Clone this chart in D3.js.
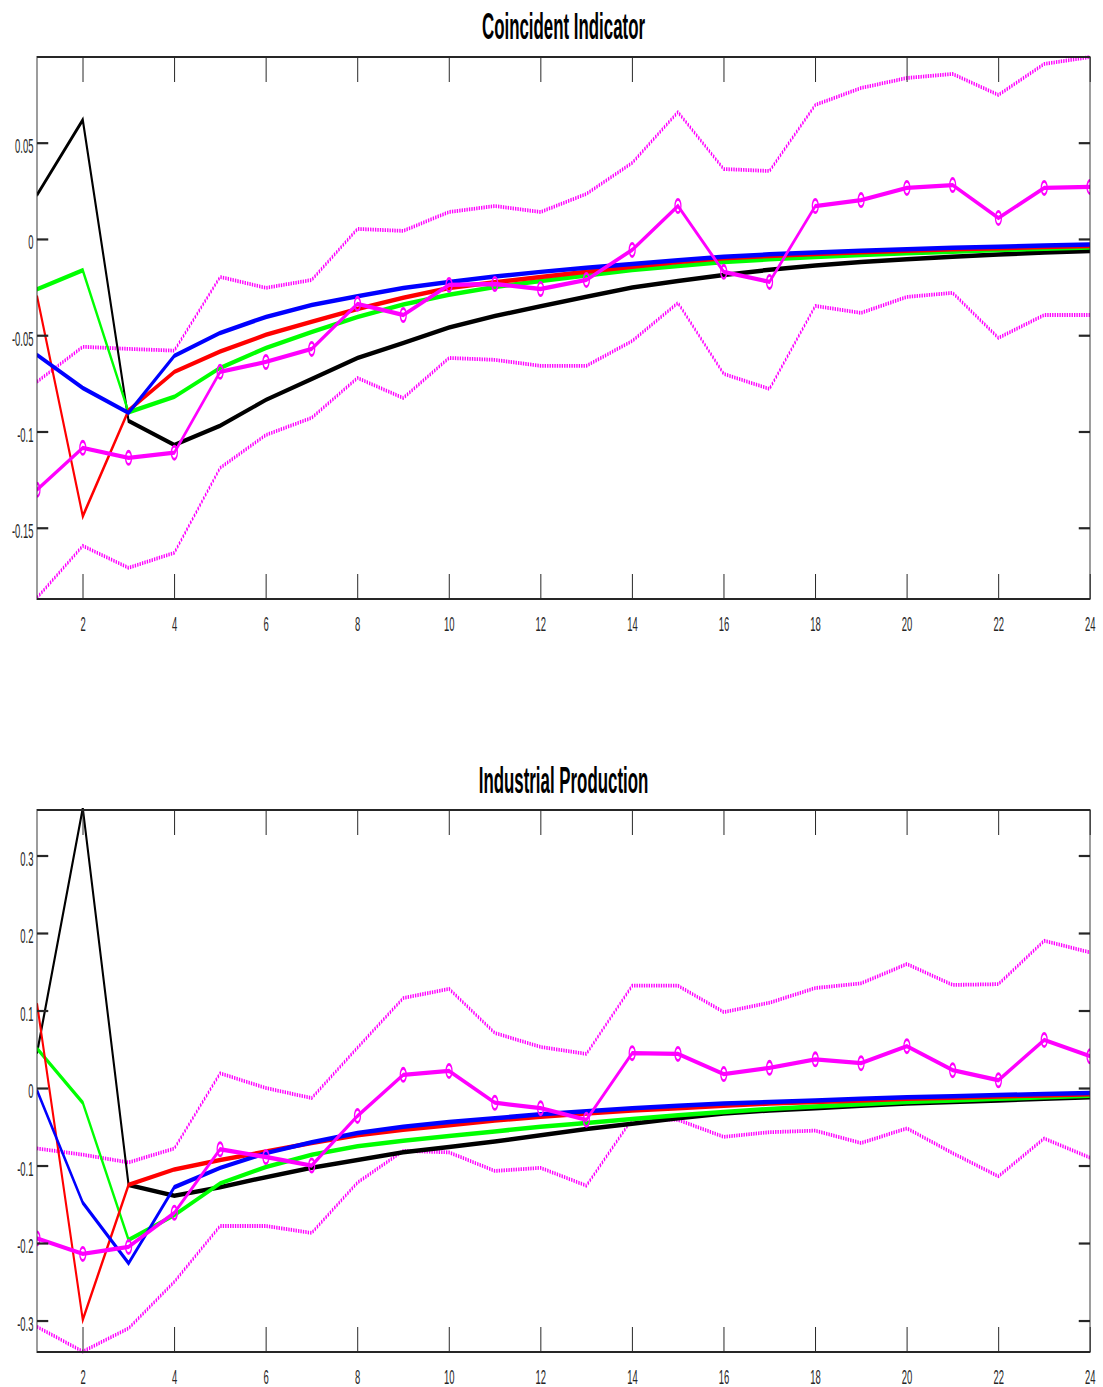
<!DOCTYPE html>
<html>
<head>
<meta charset="utf-8">
<script src="https://cdn.jsdelivr.net/npm/d3@7"></script>
<style>
  html, body { margin: 0; padding: 0; background: #ffffff; }
  svg { display: block; }
</style>
</head>
<body>
<div id="chart"></div>
<script>
// ---------------- DATA ----------------
const horizons = [1,2,3,4,5,6,7,8,9,10,11,12,13,14,15,16,17,18,19,20,21,22,23,24];
const xTicks = [2,4,6,8,10,12,14,16,18,20,22,24];
const xTickLabels = ["2","4","6","8","10","12","14","16","18","20","22","24"];

// Panel 1: Coincident Indicator
const ciTitle = "Coincident Indicator";
const ciYTicks = [-0.15, -0.1, -0.05, 0, 0.05];
const ciYTickLabels = ["-0.15", "-0.1", "-0.05", "0", "0.05"];
const ciBlack = [0.0228, 0.0618, -0.0945, -0.107, -0.097, -0.0836, -0.0727, -0.0618, -0.0540, -0.0460, -0.0400, -0.0350, -0.0300, -0.0252, -0.0218, -0.0187, -0.0160, -0.0138, -0.0120, -0.0105, -0.0092, -0.0081, -0.0071, -0.0063];
const ciRed   = [-0.0296, -0.1440, -0.0890, -0.0690, -0.0585, -0.0498, -0.0430, -0.0364, -0.0305, -0.0255, -0.0225, -0.0197, -0.0170, -0.0145, -0.0120, -0.0100, -0.0088, -0.0078, -0.0069, -0.0061, -0.0054, -0.0048, -0.0042, -0.0037];
const ciGreen = [-0.0262, -0.0163, -0.0900, -0.0820, -0.0670, -0.0566, -0.0483, -0.0405, -0.0340, -0.0290, -0.0250, -0.0218, -0.0190, -0.0161, -0.0140, -0.0120, -0.0106, -0.0094, -0.0083, -0.0074, -0.0066, -0.0058, -0.0051, -0.0045];
const ciBlue  = [-0.0602, -0.0774, -0.0903, -0.0607, -0.0488, -0.0405, -0.0343, -0.0298, -0.0255, -0.0223, -0.0195, -0.0171, -0.0150, -0.0130, -0.0110, -0.0092, -0.0080, -0.0070, -0.0061, -0.0053, -0.0046, -0.0040, -0.0034, -0.0029];
const ciMedian = [-0.1303, -0.1085, -0.1137, -0.1110, -0.0690, -0.0639, -0.0571, -0.0337, -0.0395, -0.0239, -0.0234, -0.0260, -0.0213, -0.0057, 0.0171, -0.0171, -0.0223, 0.0171, 0.0202, 0.0265, 0.0280, 0.0109, 0.0265, 0.0270];
const ciUpper = [-0.0742, -0.0560, -0.0571, -0.0580, -0.0197, -0.0254, -0.0213, 0.0052, 0.0042, 0.0140, 0.0171, 0.0140, 0.0234, 0.0395, 0.0659, 0.0363, 0.0353, 0.0696, 0.0784, 0.0836, 0.0857, 0.0748, 0.0909, 0.0945];
const ciLower = [-0.1864, -0.1594, -0.1708, -0.1630, -0.1189, -0.1018, -0.0929, -0.0722, -0.0826, -0.0618, -0.0628, -0.0659, -0.0659, -0.0530, -0.0332, -0.0701, -0.0779, -0.0348, -0.0384, -0.0301, -0.0280, -0.0514, -0.0395, -0.0395];
const ciYDomain = [-0.187, 0.0945];

// Panel 2: Industrial Production
const ipTitle = "Industrial Production";
const ipYTicks = [-0.3, -0.2, -0.1, 0, 0.1, 0.2, 0.3];
const ipYTickLabels = ["-0.3", "-0.2", "-0.1", "0", "0.1", "0.2", "0.3"];
const ipBlack = [0.045, 0.361, -0.125, -0.139, -0.128, -0.115, -0.103, -0.093, -0.083, -0.076, -0.069, -0.061, -0.053, -0.046, -0.039, -0.033, -0.029, -0.026, -0.023, -0.020, -0.018, -0.016, -0.014, -0.012];
const ipRed   = [0.109, -0.299, -0.125, -0.105, -0.093, -0.082, -0.071, -0.061, -0.054, -0.048, -0.042, -0.037, -0.033, -0.029, -0.026, -0.023, -0.020, -0.018, -0.016, -0.014, -0.0125, -0.011, -0.0095, -0.008];
const ipGreen = [0.051, -0.019, -0.196, -0.164, -0.123, -0.102, -0.086, -0.075, -0.068, -0.062, -0.056, -0.050, -0.045, -0.040, -0.035, -0.031, -0.027, -0.024, -0.021, -0.018, -0.016, -0.014, -0.012, -0.010];
const ipBlue  = [-0.003, -0.148, -0.226, -0.128, -0.103, -0.084, -0.070, -0.058, -0.050, -0.044, -0.039, -0.034, -0.030, -0.026, -0.023, -0.020, -0.018, -0.016, -0.014, -0.012, -0.0105, -0.009, -0.0078, -0.0065];
const ipMedian = [-0.194, -0.214, -0.205, -0.161, -0.079, -0.089, -0.100, -0.036, 0.017, 0.022, -0.019, -0.026, -0.041, 0.045, 0.044, 0.018, 0.026, 0.037, 0.032, 0.054, 0.023, 0.010, 0.062, 0.041];
const ipUpper = [-0.078, -0.086, -0.096, -0.078, 0.019, 0.000, -0.013, 0.052, 0.116, 0.128, 0.071, 0.053, 0.044, 0.132, 0.132, 0.098, 0.110, 0.129, 0.135, 0.160, 0.133, 0.134, 0.190, 0.175];
const ipLower = [-0.308, -0.340, -0.310, -0.250, -0.178, -0.178, -0.187, -0.122, -0.081, -0.083, -0.107, -0.103, -0.126, -0.040, -0.041, -0.063, -0.057, -0.055, -0.071, -0.052, -0.084, -0.114, -0.065, -0.090];
const ipYDomain = [-0.3406, 0.3587];

// ---------------- LAYOUT / STYLE ----------------
const W = 1103, H = 1387;
const SX = 0.45;               // horizontal squeeze of the original figure
const axLeft = 37, axRight = 1090;
const FONT = "'Liberation Sans', Arial, Helvetica, sans-serif";
const AXCOL = "#262626";
const MAG = "#ff00ff";

const svg = d3.select("#chart").append("svg")
  .attr("width", W).attr("height", H)
  .attr("viewBox", `0 0 ${W} ${H}`);
svg.append("rect").attr("width", W).attr("height", H).attr("fill", "#fff");
const root = svg.append("g").attr("transform", `scale(${SX},1)`);

function drawPanel(id, cfg) {
  const x = d3.scaleLinear().domain([1, 24]).range([axLeft / SX, axRight / SX]);
  const y = d3.scaleLinear().domain(cfg.yDomain).range([cfg.bottom, cfg.top]);
  const g = root.append("g");

  g.append("clipPath").attr("id", "clip" + id)
    .append("rect")
    .attr("x", x(1)).attr("y", cfg.top - 2)
    .attr("width", x(24) - x(1)).attr("height", cfg.bottom - cfg.top + 4);

  const plot = g.append("g").attr("clip-path", `url(#clip${id})`);
  const line = d3.line().x((d, i) => x(horizons[i])).y(d => y(d));

  // confidence bands (dotted)
  [cfg.upper, cfg.lower].forEach(s => {
    plot.append("path").attr("d", line(s))
      .attr("fill", "none").attr("stroke", MAG)
      .attr("stroke-width", 3.8)
      .attr("stroke-dasharray", "3,2.4");
  });

  // model lines
  [[cfg.black, "#000000"], [cfg.green, "#00ff00"], [cfg.red, "#ff0000"], [cfg.blue, "#0000ff"]]
    .forEach(([s, c]) => {
      plot.append("path").attr("d", line(s))
        .attr("fill", "none").attr("stroke", c)
        .attr("stroke-width", 4.5)
        .attr("stroke-linejoin", "miter");
    });

  // median with circle markers
  plot.append("path").attr("d", line(cfg.median))
    .attr("fill", "none").attr("stroke", MAG).attr("stroke-width", 4.3);
  plot.selectAll("circle.mk").data(cfg.median).enter().append("circle")
    .attr("class", "mk")
    .attr("cx", (d, i) => x(horizons[i]))
    .attr("cy", d => y(d))
    .attr("r", 6.6)
    .attr("fill", "none").attr("stroke", MAG).attr("stroke-width", 2.8);

  // axes
  const axB = d3.axisBottom(x).tickValues(xTicks).tickFormat((d, i) => xTickLabels[i]).tickSize(-25).tickPadding(17);
  const axT = d3.axisTop(x).tickValues(xTicks).tickFormat("").tickSize(-25);
  const axL = d3.axisLeft(y).tickValues(cfg.yTicks).tickFormat((d, i) => cfg.yTickLabels[i]).tickSize(-25).tickPadding(8);
  const axR = d3.axisRight(y).tickValues(cfg.yTicks).tickFormat("").tickSize(-25);

  const gB = g.append("g").attr("transform", `translate(0,${cfg.bottom})`).call(axB);
  const gT = g.append("g").attr("transform", `translate(0,${cfg.top})`).call(axT);
  const gL = g.append("g").attr("transform", `translate(${x(1)},0)`).call(axL);
  const gR = g.append("g").attr("transform", `translate(${x(24)},0)`).call(axR);
  [gB, gT, gL, gR].forEach(a => {
    a.select(".domain").remove();
    a.selectAll(".tick line").attr("stroke", AXCOL).attr("stroke-width", 2.2);
    a.selectAll(".tick text").attr("fill", AXCOL)
      .style("font-family", FONT).style("font-size", "21px");
  });
  gL.selectAll(".tick text").attr("dy", "0.47em");

  g.append("rect")
    .attr("x", x(1)).attr("y", cfg.top)
    .attr("width", x(24) - x(1)).attr("height", cfg.bottom - cfg.top)
    .attr("fill", "none").attr("stroke", AXCOL).attr("stroke-width", 2);

  g.append("text")
    .attr("x", (x(1) + x(24)) / 2).attr("y", cfg.titleY)
    .attr("text-anchor", "middle")
    .style("font-family", FONT).style("font-size", "37.5px").style("font-weight", "bold")
    .attr("fill", "#000")
    .text(cfg.title);
}

drawPanel(1, {
  top: 57, bottom: 599, titleY: 39, title: ciTitle,
  yDomain: ciYDomain, yTicks: ciYTicks, yTickLabels: ciYTickLabels,
  black: ciBlack, red: ciRed, green: ciGreen, blue: ciBlue,
  median: ciMedian, upper: ciUpper, lower: ciLower
});
drawPanel(2, {
  top: 810, bottom: 1352, titleY: 793, title: ipTitle,
  yDomain: ipYDomain, yTicks: ipYTicks, yTickLabels: ipYTickLabels,
  black: ipBlack, red: ipRed, green: ipGreen, blue: ipBlue,
  median: ipMedian, upper: ipUpper, lower: ipLower
});
</script>
</body>
</html>
